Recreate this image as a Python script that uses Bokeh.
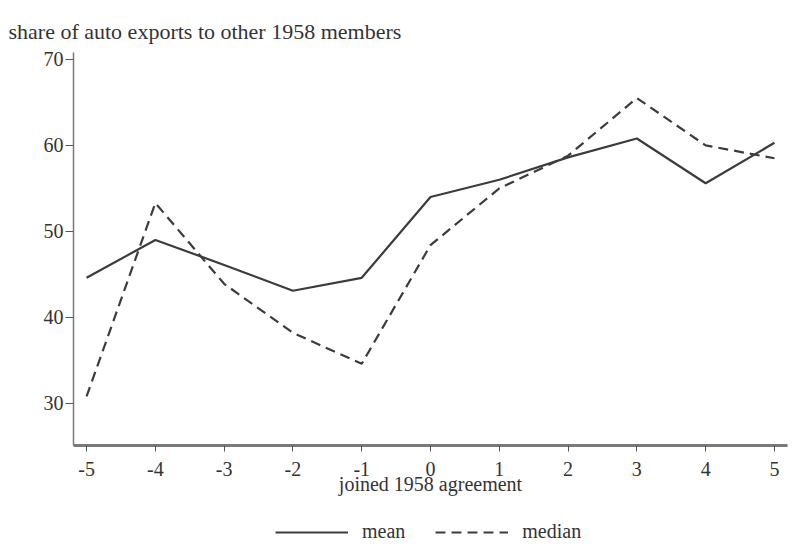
from bokeh.plotting import figure
from bokeh.models import Range1d, FixedTicker, Legend, LegendItem, Title
from bokeh.layouts import column
from bokeh.embed import file_html
from bokeh.resources import INLINE

years = [-5, -4, -3, -2, -1, 0, 1, 2, 3, 4, 5]
mean_vals = [44.6, 49.0, 46.1, 43.1, 44.6, 54.0, 56.0, 58.6, 60.8, 55.6, 60.3]
median_vals = [30.8, 53.3, 43.9, 38.2, 34.6, 48.4, 55.0, 58.8, 65.5, 60.0, 58.5]
y_ticks = [30, 40, 50, 60, 70]
x_ticks = years
series_names = ["mean", "median"]

FONT = "Liberation Serif"
TXT = "#333333"
LINE = "#3c3c3c"
DASH = "10 6"

p = figure(width=799, height=500, output_backend="svg", toolbar_location=None,
           x_range=Range1d(-5.19, 5.19), y_range=Range1d(25.1, 70.8),
           min_border_left=73, min_border_right=12, min_border_top=52, min_border_bottom=55)
p.add_layout(Title(text="share of auto exports to other 1958 members", text_font=FONT,
                   text_font_size="22px", text_font_style="normal", text_color=TXT,
                   align="left", offset=-65, standoff=17), "above")

p.outline_line_color = None
p.xgrid.visible = False
p.ygrid.visible = False
p.background_fill_color = "white"
p.border_fill_color = "white"

p.line(years, mean_vals, line_color=LINE, line_width=2.2)
p.line(years, median_vals, line_color=LINE, line_width=2.2, line_dash=DASH)

for ax in (p.xaxis[0], p.yaxis[0]):
    ax.axis_line_color = "#7a7a7a"
    ax.major_tick_line_color = "#555555"
    ax.major_tick_in = 0
    ax.minor_tick_line_color = None
    ax.major_label_text_font = FONT
    ax.major_label_text_font_size = "20px"
    ax.major_label_text_color = TXT

p.xaxis[0].ticker = FixedTicker(ticks=x_ticks)
p.yaxis[0].ticker = FixedTicker(ticks=y_ticks)
p.xaxis[0].major_label_overrides = {v: str(v) for v in x_ticks}
p.xaxis[0].axis_line_width = 3
p.yaxis[0].axis_line_width = 1.5
p.xaxis[0].major_tick_out = 6
p.yaxis[0].major_tick_out = 8
p.yaxis[0].major_label_orientation = "horizontal"
p.yaxis[0].major_label_standoff = 2
p.xaxis[0].major_label_standoff = 10
p.xaxis[0].axis_label = "joined 1958 agreement"
p.xaxis[0].axis_label_text_font = FONT
p.xaxis[0].axis_label_text_font_size = "20px"
p.xaxis[0].axis_label_text_font_style = "normal"
p.xaxis[0].axis_label_text_color = TXT
p.xaxis[0].axis_label_standoff = -6

# legend strip below the chart (its lines carry the same data, kept out of view)
q = figure(width=799, height=47, output_backend="svg", toolbar_location=None,
           x_range=Range1d(100, 101), y_range=Range1d(100, 101),
           min_border_left=0, min_border_right=0, min_border_top=0, min_border_bottom=0)
q.axis.visible = False
q.xgrid.visible = False
q.ygrid.visible = False
q.outline_line_color = None
q.border_fill_color = "white"
r1 = q.line(years, mean_vals, line_color=LINE, line_width=2.2)
r2 = q.line(years, median_vals, line_color=LINE, line_width=2.2, line_dash=DASH)
legend = Legend(items=[LegendItem(label=series_names[0], renderers=[r1]),
                       LegendItem(label=series_names[1], renderers=[r2])],
                orientation="horizontal", location=(202, 4),
                glyph_width=73, glyph_height=16, label_height=16,
                label_standoff=14, spacing=30,
                label_text_font=FONT, label_text_font_size="20px", label_text_color=TXT,
                border_line_color=None, background_fill_alpha=0,
                margin=0, padding=0)
q.add_layout(legend, "center")

layout = column(p, q, spacing=0)
open("out.html", "w").write(file_html(layout, INLINE))
